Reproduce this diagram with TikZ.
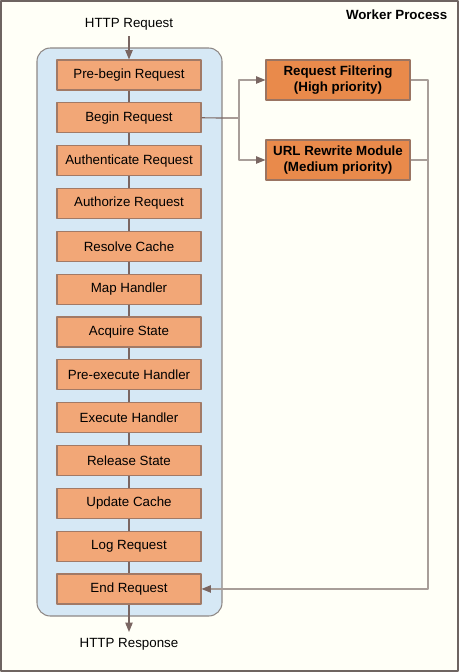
\documentclass[tikz,border=0pt]{standalone}
\usepackage{fontspec}
\setmainfont{Liberation Sans}
\usetikzlibrary{positioning,arrows.meta}
\definecolor{framec}{HTML}{6E6461}
\definecolor{paper}{HTML}{FFFFF7}
\definecolor{poolfill}{HTML}{D6E8F5}
\definecolor{pooldraw}{HTML}{8E8886}
\definecolor{stagefill}{HTML}{F2A777}
\definecolor{stagedraw}{HTML}{A27A66}
\definecolor{modfill}{HTML}{E98A4B}
\definecolor{moddraw}{HTML}{9A7462}
\definecolor{wire}{HTML}{7A6662}
\definecolor{litewire}{HTML}{A89E99}
\tikzset{
  stage/.style={draw=stagedraw, fill=stagefill, line width=0.8pt, minimum width=108pt, minimum height=22.5pt, inner sep=0pt},
  module/.style={draw=moddraw, fill=modfill, line width=0.8pt, minimum width=108pt, minimum height=30pt, inner sep=0pt, align=center, font=\fontsize{10}{12}\selectfont\bfseries},
  wireln/.style={draw=wire, line width=0.9pt},
  liteln/.style={draw=litewire, line width=0.9pt}
}
\begin{document}
\begin{tikzpicture}[x=0.75pt, y=-0.75pt, font=\fontsize{10}{12}\selectfont, line join=round, >={Triangle[length=7pt,width=5.5pt,color=wire]}]
  % Khung ngoai
  \fill[paper] (0,0) rectangle (459,672);
  \draw[framec, line width=1.2pt] (1,1) rectangle (458,671);
  \node[anchor=east, font=\fontsize{10}{12}\selectfont\bfseries] (wp) at (452,15) {Worker Process};
  % Vung xu ly
  \draw[pooldraw, fill=poolfill, line width=0.8pt, rounded corners=10pt] (37,48) rectangle (222,616);
  \def\dy{42.83}
  \foreach \t [count=\i] in {Pre-begin Request, Begin Request, Authenticate Request, Authorize Request, Resolve Cache, Map Handler, Acquire State, Pre-execute Handler, Execute Handler, Release State, Update Cache, Log Request, End Request}
    \node[stage] (s\i) at (129,{75+(\i-1)*\dy}) {\t};
  \foreach \i [evaluate=\i as \j using int(\i+1)] in {1,...,12}
    \draw[wireln] (s\i) -- (s\j);
  \node (req) at (129,24) {HTTP Request};
  \node (resp) at (129,644) {HTTP Response};
  \draw[wireln, ->, shorten <=1pt] (req) -- (s1);
  \draw[wireln, ->, shorten >=1pt] (s13) -- (resp);
  % Module
  \node[module] (filter) at (338,80) {Request Filtering\\(High priority)};
  \node[module] (rewrite) at (338,160) {URL Rewrite Module\\(Medium priority)};
  \coordinate (br) at (239,118);
  \coordinate (jn) at (428,160);
  \draw[wireln] (s2.east) -- (br);
  \draw[liteln, ->] (br) |- (filter.west);
  \draw[liteln, ->] (br) |- (rewrite.west);
  \draw[liteln] (filter.east) -| (jn);
  \draw[liteln, ->] (rewrite.east) -- (jn) |- (s13.east);
\end{tikzpicture}
\end{document}
